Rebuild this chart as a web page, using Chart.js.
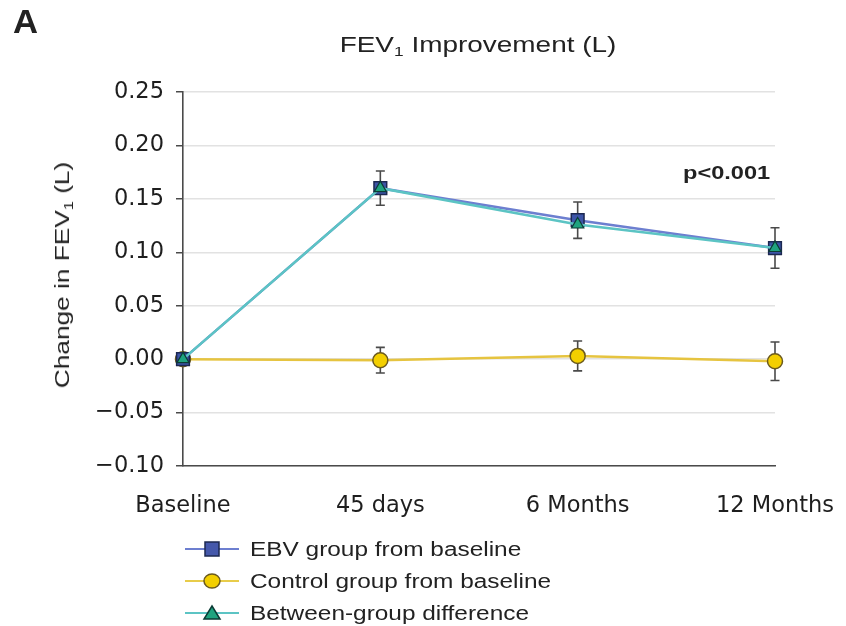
<!DOCTYPE html>
<html>
<head>
<meta charset="utf-8">
<script src="https://cdn.jsdelivr.net/npm/chart.js@4.4.1/dist/chart.umd.min.js"></script>
<style>
  html, body { margin: 0; padding: 0; background: #fff; }
  #wrap { position: relative; width: 846px; height: 626px; overflow: hidden; font-family: "Liberation Sans", Arial, sans-serif; color: #222; }
  canvas { position: absolute; left: 0; top: 0; }
  .txt { position: absolute; white-space: nowrap; }
  sub { font-size: 0.62em; vertical-align: -0.3em; line-height: 0; }
  #panel { left: 13px; top: 3px; font-weight: bold; font-size: 33px; transform-origin: left top; transform: scaleX(1.05); }
  #title { left: 478px; top: 32px; font-size: 22px; transform: translateX(-50%) scaleX(1.27); }
  #ytitle { left: 62px; top: 275px; font-size: 21px; transform: translate(-50%, -50%) rotate(-90deg) scaleX(1.25); }
  #pval { left: 683px; top: 162px; font-size: 19px; font-weight: bold; transform-origin: left top; transform: scaleX(1.24); }
  #legend { left: 185px; top: 533px; font-size: 20px; }
  .row { height: 32px; display: flex; align-items: center; }
  .row svg { margin-right: 11px; }
  .row span { display: inline-block; transform-origin: left center; transform: scaleX(1.22); }
</style>
</head>
<body>
<div id="wrap">
  <canvas id="c" width="846" height="626"></canvas>
  <div class="txt" id="panel">A</div>
  <div class="txt" id="title">FEV<sub>1</sub> Improvement (L)</div>
  <div class="txt" id="ytitle">Change in FEV<sub>1</sub> (L)</div>
  <div class="txt" id="pval">p&lt;0.001</div>
  <div class="txt" id="legend">
    <div class="row"><svg width="54" height="20"><line x1="0" y1="10" x2="54" y2="10" stroke="#6d7fd0" stroke-width="2"/><rect x="20" y="3" width="14" height="14" fill="#4558ab" stroke="#1c2850" stroke-width="1.5"/></svg><span>EBV group from baseline</span></div>
    <div class="row"><svg width="54" height="20"><line x1="0" y1="10" x2="54" y2="10" stroke="#e8cc4a" stroke-width="2"/><ellipse cx="27" cy="10" rx="8" ry="7" fill="#f3cf00" stroke="#6b5a1e" stroke-width="1.5"/></svg><span>Control group from baseline</span></div>
    <div class="row"><svg width="54" height="20"><line x1="0" y1="10" x2="54" y2="10" stroke="#5cc4c4" stroke-width="2"/><polygon points="27,3 35,16 19,16" fill="#1fa37f" stroke="#0b3b35" stroke-width="1.5"/></svg><span>Between-group difference</span></div>
  </div>
</div>
<script>
// ---- data ----
const categories = ["Baseline", "45 days", "6 Months", "12 Months"];
const ebvValues = [0, 0.160, 0.130, 0.104];
const ebvErrors = [0, 0.016, 0.017, 0.019];
const controlValues = [0, -0.001, 0.003, -0.002];
const controlErrors = [0, 0.012, 0.014, 0.018];
const diffValues = [0, 0.160, 0.126, 0.104];
const yTicks = [-0.10, -0.05, 0.00, 0.05, 0.10, 0.15, 0.20, 0.25];

const errorBars = {
  id: 'errorBars',
  beforeDatasetsDraw(chart) {
    const ctx = chart.ctx;
    const y = chart.scales.y;
    chart.data.datasets.forEach((ds, i) => {
      if (!ds.errors) return;
      const meta = chart.getDatasetMeta(i);
      meta.data.forEach((pt, j) => {
        const e = ds.errors[j];
        if (!e) return;
        const v = ds.data[j];
        const top = y.getPixelForValue(v + e);
        const bot = y.getPixelForValue(v - e);
        ctx.save();
        ctx.strokeStyle = '#4a4a4a';
        ctx.lineWidth = 1.6;
        ctx.beginPath();
        ctx.moveTo(pt.x, top); ctx.lineTo(pt.x, bot);
        ctx.moveTo(pt.x - 4.5, top); ctx.lineTo(pt.x + 4.5, top);
        ctx.moveTo(pt.x - 4.5, bot); ctx.lineTo(pt.x + 4.5, bot);
        ctx.stroke();
        ctx.restore();
      });
    });
  }
};

const tickFont = { family: '"DejaVu Sans", sans-serif', size: 22.5 };

new Chart(document.getElementById('c'), {
  type: 'line',
  data: {
    labels: categories,
    datasets: [
      {
        label: 'Between-group difference',
        data: diffValues,
        borderColor: '#5cc4c4',
        borderWidth: 2.5,
        pointStyle: 'triangle',
        pointRadius: 7,
        pointBackgroundColor: '#1fa37f',
        pointBorderColor: '#0b3b35',
        pointBorderWidth: 1.2,
        tension: 0,
        order: 0
      },
      {
        label: 'EBV group from baseline',
        data: ebvValues,
        errors: ebvErrors,
        borderColor: '#6d7fd0',
        borderWidth: 2.5,
        pointStyle: 'rect',
        pointRadius: 9,
        pointBackgroundColor: '#3d55a8',
        pointBorderColor: '#1c2850',
        pointBorderWidth: 1.5,
        tension: 0,
        order: 1
      },
      {
        label: 'Control group from baseline',
        data: controlValues,
        errors: controlErrors,
        borderColor: '#e6c440',
        borderWidth: 2.5,
        pointStyle: 'circle',
        pointRadius: 7.5,
        pointBackgroundColor: '#f3cf00',
        pointBorderColor: '#6b5a1e',
        pointBorderWidth: 1.5,
        tension: 0,
        order: 2
      }
    ]
  },
  options: {
    responsive: false,
    animation: false,
    layout: { padding: { left: 0, top: 92, right: 71, bottom: 0 } },
    plugins: { legend: { display: false }, tooltip: { enabled: false }, title: { display: false } },
    scales: {
      x: {
        type: 'category',
        offset: false,
        grid: { display: false },
        border: { display: true, color: '#4a4a4a', width: 1.6 },
        ticks: { color: '#1e1e1e', font: tickFont, padding: 19, maxRotation: 0, autoSkip: false },
        afterFit(s) { s.height = 160; s.paddingLeft = 0; s.paddingRight = 0; }
      },
      y: {
        min: yTicks[0],
        max: yTicks[yTicks.length - 1],
        afterBuildTicks(s) { s.ticks = yTicks.map(v => ({ value: v })); },
        grid: { color: '#e2e2e2', lineWidth: 1.5, tickColor: '#4a4a4a', tickLength: 7, drawTicks: true },
        border: { display: true, color: '#4a4a4a', width: 1.6 },
        ticks: {
          color: '#1e1e1e',
          font: tickFont,
          padding: 12,
          callback(v) { const a = Math.abs(v) < 1e-9 ? 0 : v; return (a < 0 ? '\u2212' : '') + Math.abs(a).toFixed(2); }
        },
        afterFit(s) { s.width = 183; }
      }
    }
  },
  plugins: [errorBars]
});
</script>
</body>
</html>
